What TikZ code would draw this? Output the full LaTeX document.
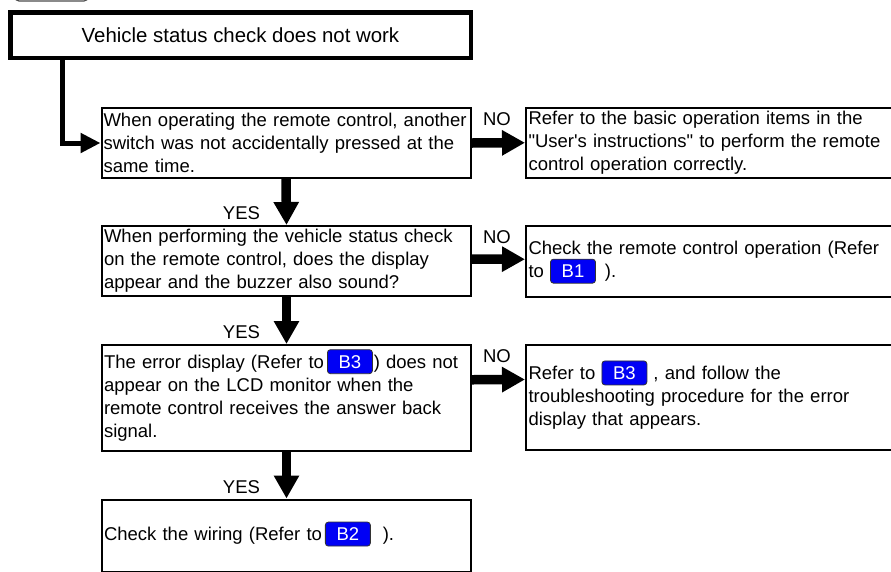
\documentclass[tikz,border=0pt]{standalone}
\usepackage{fontspec}
\setmainfont{Liberation Sans}[Ligatures=TeXOff]
\usepackage{tikz}
\usetikzlibrary{arrows.meta, positioning, calc}
\definecolor{badgeblue}{RGB}{0, 0, 245}

\tikzset{
    badge/.style={rectangle, rounded corners=3pt, draw=black!80, line width=0.8pt, fill=badgeblue, text=white, text width={}, align=center, minimum width=45pt, minimum height=24pt, inner sep=0pt, font=\fontsize{18.5}{23}\selectfont}
}
\newcommand{\badge}[1]{\smash{\tikz[baseline=(b.base)]\node[badge] (b) {#1};}}

\begin{document}
\begin{tikzpicture}[
    x=1pt, y=-1pt,
    qbox/.style={rectangle, draw, line width=2pt, text width=365pt, align=left, inner xsep=2pt, inner ysep=0pt, font=\fontsize{18.5}{23}\selectfont},
    abox/.style={qbox, text width=369pt, inner xsep=2.5pt},
    startbox/.style={rectangle, draw, line width=4.5pt, minimum width=460.5pt, minimum height=45.5pt, font=\fontsize{20.4}{24}\selectfont},
    tagbox/.style={rectangle, rounded corners=4pt, draw=black!70, line width=1.2pt, minimum width=73pt, minimum height=23pt},
    lbl/.style={inner sep=0pt, font=\fontsize{18.5}{23}\selectfont},
    arrow/.style={-{Triangle[length=23pt, width=24pt]}, line width=9.5pt},
    flow/.style={-{Triangle[length=20pt, width=19pt]}, line width=5pt}
]
\useasboundingbox (0,0) rectangle (891,571);
\clip (0,0) rectangle (891,571);

\node[tagbox] (tag) at (51.5,-10.5) {};
\node[startbox] (start) at (240.5,35) {Vehicle status check does not work};

% questions
\node[qbox, minimum height=70pt] (q1) at (286,143) {When operating the remote control, another\\switch was not accidentally pressed at the\\same time.};
\node[qbox, minimum height=70pt] (q2) at (286.5,261) {When performing the vehicle status check\\on the remote control, does the display\\appear and the buzzer also sound?};
\node[qbox, minimum height=105.5pt] (q3) at (286.5,397.75) {The error display (Refer to\hspace{3pt}\badge{B3}\hspace{1pt}) does not\\appear on the LCD monitor when the\\remote control receives the answer back\\signal.};
\node[qbox, minimum height=72.5pt] (q4) at (286.5,535.75) {Check the wiring (Refer to\hspace{3pt}\badge{B2}\hspace{12pt}).};

% answers
\node[abox, minimum height=70.5pt] (a1) at (713,142.75) {Refer to the basic operation items in the\\"User's instructions" to perform the remote\\control operation correctly.};
\node[abox, minimum height=70.5pt] (a2) at (713,261.25) {Check the remote control operation (Refer\\to \badge{B1}\hspace{9pt}).};
\node[abox, minimum height=105pt] (a3) at (713,397.5) {Refer to \badge{B3} , and follow the\\troubleshooting procedure for the error\\display that appears.};

\coordinate (bend) at (62.5,143);
\draw[flow] (start.south -| bend) -- (bend) -- (q1.west);

\foreach \i in {1,2,3} {
    \pgfmathtruncatemacro{\j}{\i+1}
    \draw[arrow] (q\i.south) -- (q\j.north);
    \node[lbl] (yes\j) at ([xshift=-45pt,yshift=11.5pt]q\j.north) {YES};
}

\foreach \i/\s in {1/0,2/2,3/18} {
    \draw[arrow] ([yshift=\s pt]q\i.east) -- ([yshift=\s pt]a\i.west);
    \node[lbl] (no\i) at ([xshift=-28pt,yshift=-12.5pt]a\i.north west) {NO};
}

\end{tikzpicture}
\end{document}
